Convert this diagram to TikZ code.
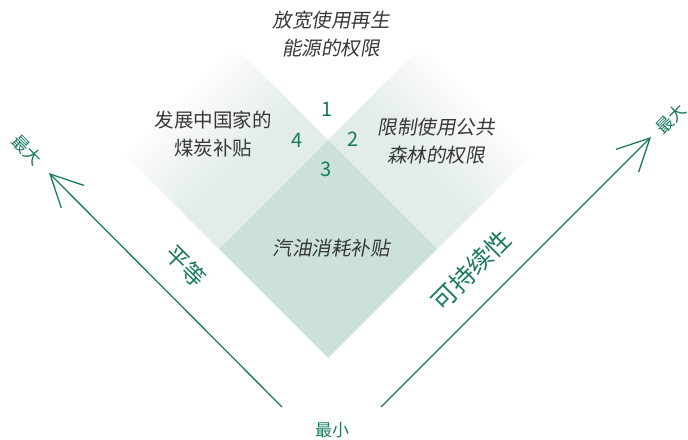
\documentclass[tikz,border=0pt]{standalone}
\usepackage{fontspec}
\setmainfont{Noto Sans CJK SC}
\newfontfamily\cjkit[FakeSlant=0.18]{Noto Sans CJK SC}
\usetikzlibrary{arrows.meta,calc}
\definecolor{dgreen}{HTML}{1A7A5C}
\definecolor{lightc}{HTML}{E2ECE9}
\definecolor{midc}{HTML}{CCE1DB}
\definecolor{txtc}{HTML}{383838}
\tikzset{
  lbl/.style={text=txtc, align=center, inner sep=0pt, font=\fontsize{19.5bp}{28bp}\selectfont},
  ilbl/.style={text=txtc, align=center, inner sep=0pt, font=\fontsize{19.5bp}{28bp}\selectfont\cjkit},
  num/.style={text=dgreen, inner sep=0pt, font=\fontsize{20bp}{24bp}\selectfont},
  axlbl/.style={text=dgreen, inner sep=0pt, font=\fontsize{17bp}{20bp}\selectfont},
  axtitle/.style={text=dgreen, inner sep=0pt, font=\fontsize{23bp}{26bp}\selectfont},
  axarrow/.style={draw=dgreen, line width=1.3bp, -{Straight Barb[length=32bp,width=32bp]}},
}
\begin{document}
\begin{tikzpicture}[x=1bp,y=-1bp]
\useasboundingbox (0,0) rectangle (688,440);
\coordinate (C) at (328,140);
\coordinate (LL) at (110,140);
\coordinate (LT) at (219,31);
\coordinate (LB) at (219,249);
\coordinate (RT) at (437,31);
\coordinate (RR) at (546,140);
\coordinate (RB) at (437,249);
\coordinate (CB) at (328,358);
\foreach \i in {0,...,59}{
  \pgfmathsetmacro\ta{\i/60}
  \pgfmathsetmacro\tb{min(1,(\i+1.5)/60)}
  \pgfmathsetmacro\p{min(100,max(0,(\ta-0.1)/0.6*100))}
  \fill[lightc!\p!white] ($(LL)!\ta!(LB)$) -- ($(LT)!\ta!(C)$) -- ($(LT)!\tb!(C)$) -- ($(LL)!\tb!(LB)$) -- cycle;
  \fill[lightc!\p!white] ($(RR)!\ta!(RB)$) -- ($(RT)!\ta!(C)$) -- ($(RT)!\tb!(C)$) -- ($(RR)!\tb!(RB)$) -- cycle;
}
\fill[midc] (C) -- (RB) -- (CB) -- (LB) -- cycle;
\node[ilbl] (top) at (331,34) {放宽使用再生\\能源的权限};
\node[lbl] (left) at (213,134) {发展中国家的\\煤炭补贴};
\node[ilbl] (right) at (436,141) {限制使用公共\\森林的权限};
\node[ilbl] (mid) at (331,248) {汽油消耗补贴};
\node[num] (n1) at (327,109) {1};
\node[num] (n2) at (353,139) {2};
\node[num] (n3) at (326,169) {3};
\node[num] (n4) at (297,140) {4};
\coordinate (la0) at (282,407);
\coordinate (la1) at (49,173);
\coordinate (ra0) at (381,407);
\coordinate (ra1) at (651,137);
\draw[axarrow] (la0) -- (la1);
\draw[axarrow] (ra0) -- (ra1);
\node[axlbl, rotate=-45] (lmax) at (27,150) {最大};
\node[axlbl, rotate=45] (rmax) at (671,119) {最大};
\node[axlbl] (min) at (332,430) {最小};
\node[axtitle, rotate=-45] (eq) at (186,266) {平等};
\node[axtitle, rotate=45, font=\fontsize{25bp}{28bp}\selectfont] (sus) at (471,270) {可持续性};
\end{tikzpicture}
\end{document}
